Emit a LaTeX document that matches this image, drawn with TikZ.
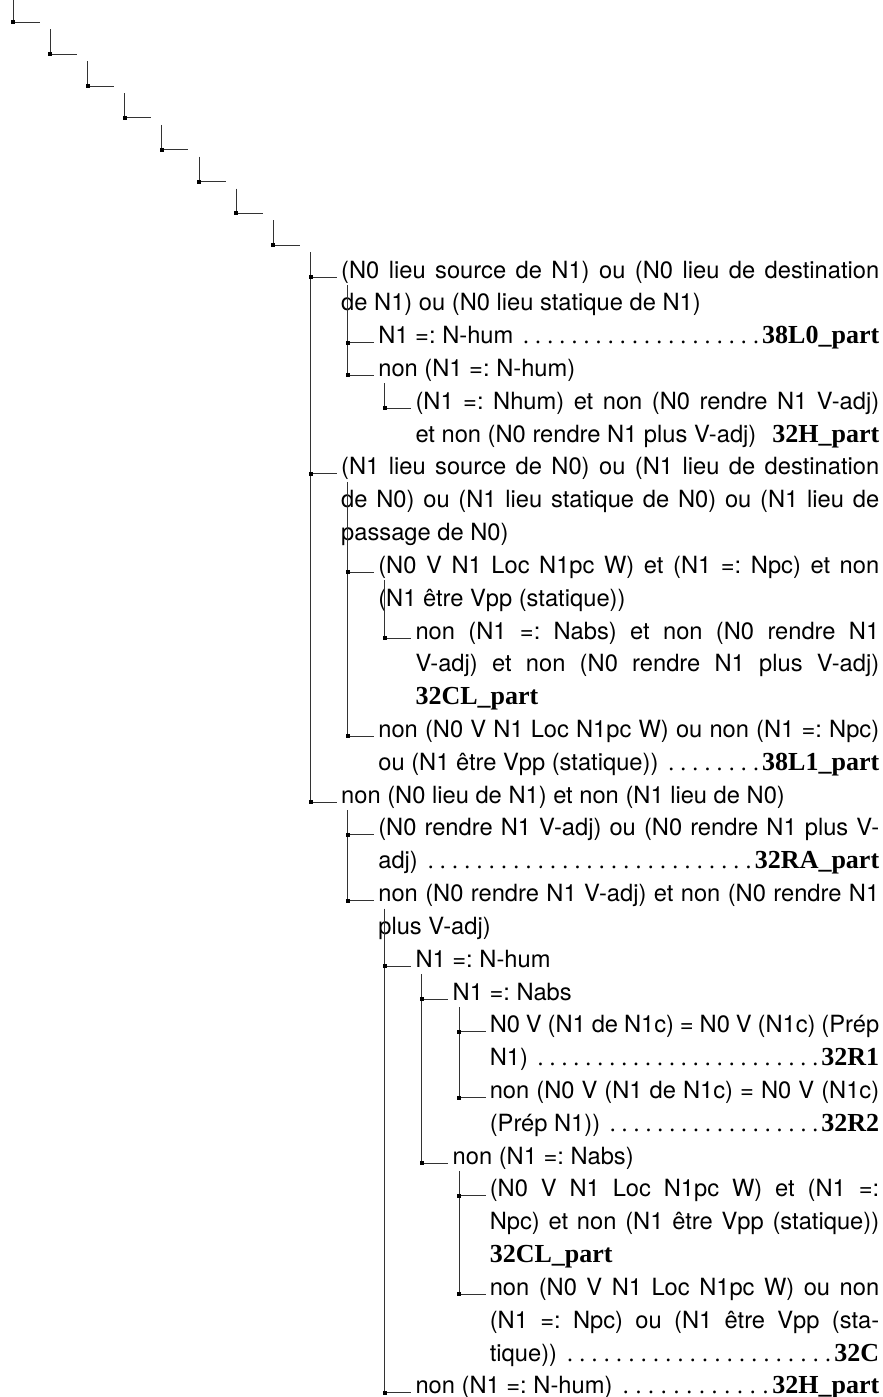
\documentclass[tikz,border=0pt]{standalone}
\usepackage{fontspec}
\usetikzlibrary{calc}
\newfontfamily\itemfont{TeX Gyre Heros}
\newfontfamily\rulefont{Liberation Serif}
\newcommand\dotleader{{\rulefont\xleaders\hbox to 0.5em{\hss.\hss}\hfill}}
\newcommand\rulename[1]{{\rulefont\bfseries\fontsize{26}{32.82}\selectfont #1}}
\tolerance=10000
\hyphenpenalty=10000
\exhyphenpenalty=10000
\frenchspacing

\tikzset{
  branch/.style={line width=1pt, black!80},
  knot/.style={fill=black, inner sep=0pt, minimum size=4pt},
  entry/.style={anchor=base west, inner sep=0pt, align=justify,
    font={\itemfont\fontsize{23.7}{32.82}\selectfont}},
  lvix/.style={entry, text width=538pt},
  lvx/.style={entry, text width=500.85pt},
  lvxi/.style={entry, text width=463.7pt},
  lvxii/.style={entry, text width=426.55pt},
  lvxiii/.style={entry, text width=389.4pt},
}

\begin{document}
\begin{tikzpicture}[x=1pt, y=-1pt]
  \useasboundingbox (0,0) rectangle (883,1397);

  % Treppe (leere Knoten)
  \coordinate (k1) at (13.3,22.3);
  \coordinate (k2) at (50.45,54.16);
  \coordinate (k3) at (87.6,86.02);
  \coordinate (k4) at (124.75,117.88);
  \coordinate (k5) at (161.9,149.74);
  \coordinate (k6) at (199.05,181.6);
  \coordinate (k7) at (236.2,213.46);
  \coordinate (k8) at (273.35,245.32);

  % Ecken der Eintraege
  \coordinate (kA)   at (310.5,277);
  \coordinate (kA1)  at (347.65,342.64);
  \coordinate (kA2)  at (347.65,375.46);
  \coordinate (kAa)  at (384.8,408.28);
  \coordinate (kB)   at (310.5,473.92);
  \coordinate (kB1)  at (347.65,572.38);
  \coordinate (kBa)  at (384.8,638.02);
  \coordinate (kB2)  at (347.65,736.48);
  \coordinate (kC)   at (310.5,802.12);
  \coordinate (kC1)  at (347.65,834.94);
  \coordinate (kC2)  at (347.65,900.58);
  \coordinate (kD)   at (384.8,966.22);
  \coordinate (kD1)  at (421.95,999.04);
  \coordinate (kD1a) at (459.1,1031.86);
  \coordinate (kD1b) at (459.1,1097.5);
  \coordinate (kD2)  at (421.95,1163.14);
  \coordinate (kD2a) at (459.1,1195.96);
  \coordinate (kD2b) at (459.1,1294.42);
  \coordinate (kE)   at (384.8,1392.88);

  % Texte
  \node[lvix] (tA) at (341,278)
    {(N0 lieu source de N1) ou (N0 lieu de destination\linebreak
     de N1) ou (N0 lieu statique de N1)};
  \node[lvx] (tA1) at (378.15,343.64)
    {N1 =: N-hum \dotleader\rulename{38L0\_part}};
  \node[lvx] (tA2) at (378.15,376.46)
    {non (N1 =: N-hum)};
  \node[lvxi] (tAa) at (415.3,409.28)
    {(N1 =: Nhum) et non (N0 rendre N1 V-adj)\linebreak
     et non (N0 rendre N1 plus V-adj) \dotleader\rulename{32H\_part}};
  \node[lvix] (tB) at (341,474.92)
    {(N1 lieu source de N0) ou (N1 lieu de destination\linebreak
     de N0) ou (N1 lieu statique de N0) ou (N1 lieu de\linebreak
     passage de N0)};
  \node[lvx] (tB1) at (378.15,573.38)
    {(N0 V N1 Loc N1pc W) et (N1 =: Npc) et non\linebreak
     (N1 être Vpp (statique))};
  \node[lvxi] (tBa) at (415.3,639.02)
    {non (N1 =: Nabs) et non (N0 rendre N1\linebreak
     V-adj) et non (N0 rendre N1 plus V-adj)\linebreak
     \rulename{32CL\_part}};
  \node[lvx] (tB2) at (378.15,737.48)
    {non (N0 V N1 Loc N1pc W) ou non (N1 =: Npc)\linebreak
     ou (N1 être Vpp (statique)) \dotleader\rulename{38L1\_part}};
  \node[lvix] (tC) at (341,803.12)
    {non (N0 lieu de N1) et non (N1 lieu de N0)};
  \node[lvx] (tC1) at (378.15,835.94)
    {(N0 rendre N1 V-adj) ou (N0 rendre N1 plus V-\linebreak
     adj) \dotleader\rulename{32RA\_part}};
  \node[lvx] (tC2) at (378.15,901.58)
    {non (N0 rendre N1 V-adj) et non (N0 rendre N1\linebreak
     plus V-adj)};
  \node[lvxi] (tD) at (415.3,967.22)
    {N1 =: N-hum};
  \node[lvxii] (tD1) at (452.45,1000.04)
    {N1 =: Nabs};
  \node[lvxiii] (tD1a) at (489.6,1032.86)
    {N0 V (N1 de N1c) = N0 V (N1c) (Prép\linebreak
     N1) \dotleader\rulename{32R1}};
  \node[lvxiii] (tD1b) at (489.6,1098.5)
    {non (N0 V (N1 de N1c) = N0 V (N1c)\linebreak
     (Prép N1)) \dotleader\rulename{32R2}};
  \node[lvxii] (tD2) at (452.45,1164.14)
    {non (N1 =: Nabs)};
  \node[lvxiii] (tD2a) at (489.6,1196.96)
    {(N0 V N1 Loc N1pc W) et (N1 =:\linebreak
     Npc) et non (N1 être Vpp (statique))\linebreak
     \rulename{32CL\_part}};
  \node[lvxiii] (tD2b) at (489.6,1295.42)
    {non (N0 V N1 Loc N1pc W) ou non\linebreak
     (N1 =: Npc) ou (N1 être Vpp (sta-\linebreak
     tique)) \dotleader\rulename{32C}};
  \node[lvxi] (tE) at (415.3,1393.88)
    {non (N1 =: N-hum) \dotleader\rulename{32H\_part}};

  % senkrechte Aeste
  \draw[branch] (13.3,0) -- (k1);
  \foreach \a/\b in {k1/k2,k2/k3,k3/k4,k4/k5,k5/k6,k6/k7,k7/k8,k8/kC}
    \draw[branch] ($(\b |- \a)+(0,7)$) -- (\b);
  \foreach \a/\b in {kA/kA2,kA2/kAa,kB/kB2,kB1/kBa,kC/kC2,kC2/kE,
                     kD/kD2,kD1/kD1b,kD2/kD2b}
    \draw[branch] ($(\b |- \a)+(0,8)$) -- (\b);

  % waagrechte Aeste mit Knoten
  \foreach \k in {k1,k2,k3,k4,k5,k6,k7,k8,kA,kA1,kA2,kAa,kB,kB1,kBa,kB2,
                  kC,kC1,kC2,kD,kD1,kD1a,kD1b,kD2,kD2a,kD2b,kE}
  {
    \draw[branch] (\k) -- ++(26.5,0);
    \node[knot] (n\k) at (\k) {};
  }

\end{tikzpicture}
\end{document}
